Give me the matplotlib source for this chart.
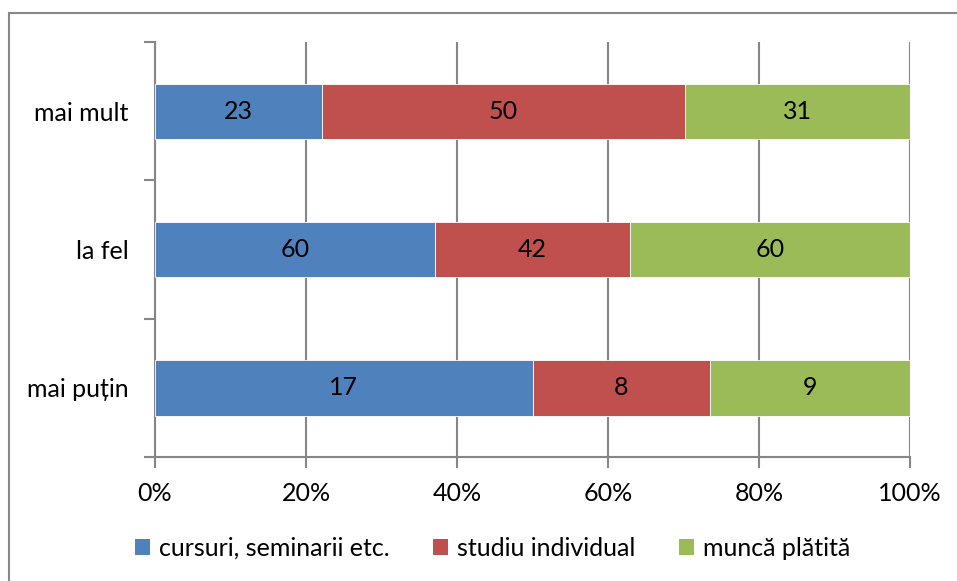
import matplotlib
matplotlib.use("Agg")
import matplotlib.pyplot as plt
from matplotlib.patches import Patch
from matplotlib.lines import Line2D
import numpy as np

categories = ["mai mult", "la fel", "mai puțin"]
series_names = ["cursuri, seminarii etc.", "studiu individual", "muncă plătită"]
cursuri = [23, 60, 17]
studiu = [50, 42, 8]
munca = [31, 60, 9]
colors = ["#4F81BD", "#C0504D", "#9BBB59"]
xtick_labels = ["0%", "20%", "40%", "60%", "80%", "100%"]

plt.rcParams['font.family'] = ['Lato', 'DejaVu Sans']
FS = 18

fig = plt.figure(figsize=(9.57, 5.81), dpi=100)
ax = fig.add_axes([155/957, 1-457/581, (910-155)/957, (457-42)/581])

data = np.array([cursuri, studiu, munca], dtype=float)
totals = data.sum(axis=0)
pct = data / totals * 100
ypos = np.array([2, 1, 0])

left = np.zeros(len(categories))
for i in range(3):
    ax.barh(ypos, pct[i], left=left, height=0.4, color=colors[i],
            edgecolor="white", linewidth=0.6, zorder=3)
    for j in range(len(categories)):
        ax.text(left[j] + pct[i][j] / 2, ypos[j], f"{int(data[i][j])}",
                ha="center", va="center", fontsize=FS, color="black", zorder=4)
    left += pct[i]

ax.set_xlim(0, 100)
ax.set_ylim(-0.5, 2.5)
ax.set_xticks(np.arange(0, 101, 20))
ax.set_xticklabels(xtick_labels, fontsize=FS)
ax.set_yticks([-0.5, 0.5, 1.5, 2.5])
ax.set_yticklabels([])
ax.set_yticks(ypos, minor=True)
ax.set_yticklabels(categories, minor=True, fontsize=FS)

gc = "#868686"
ax.tick_params(axis="y", which="major", length=8, width=1.5, color=gc, direction="out")
ax.tick_params(axis="y", which="minor", length=0, pad=19)
ax.tick_params(axis="x", which="major", length=8, width=1.5, color=gc, direction="out", pad=10)
ax.grid(axis="x", color=gc, linewidth=1.5, zorder=0)
for s in ["top", "right"]:
    ax.spines[s].set_visible(False)
for s in ["left", "bottom"]:
    ax.spines[s].set_color(gc)
    ax.spines[s].set_linewidth(1.5)

handles = [Patch(facecolor=c, edgecolor="none") for c in colors]
fig.legend(handles, series_names, loc="center", bbox_to_anchor=(0.515, 1-548/581),
           ncol=3, frameon=False, fontsize=FS, handlelength=0.6, handleheight=0.6,
           handletextpad=0.35, columnspacing=1.75)

# outer border (top and left)
fig.add_artist(Line2D([8.5/957, 1], [1-12.5/581, 1-12.5/581], transform=fig.transFigure,
                      color="#888888", linewidth=1.5))
fig.add_artist(Line2D([8.5/957, 8.5/957], [0, 1-12.5/581], transform=fig.transFigure,
                      color="#888888", linewidth=1.5))

fig.savefig("out.png", dpi=100, facecolor="white")
